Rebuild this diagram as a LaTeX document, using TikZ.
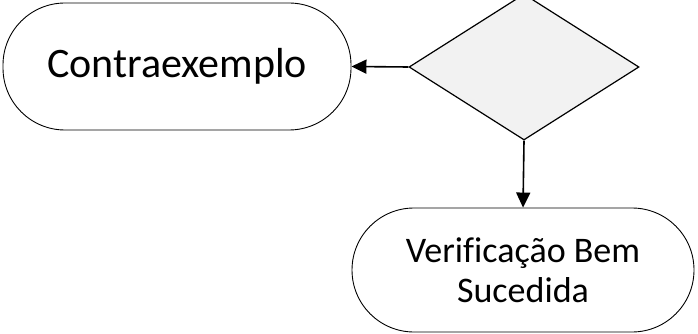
\documentclass[tikz,border=0pt]{standalone}
\usepackage{fontspec}
\setmainfont{Carlito}[Ligatures=CommonOff]
\usepackage{xcolor}
\usepackage{tikz}
\usetikzlibrary{arrows.meta,positioning,shapes.geometric}

\definecolor{decfill}{HTML}{F2F2F2}

\begin{document}
\begin{tikzpicture}[
  x=1pt, y=-1pt,
  term/.style={rectangle, draw, line width=0.9pt, rounded corners=62pt, align=center, inner sep=0pt},
  decision/.style={diamond, draw, line width=1.2pt, fill=decfill, inner sep=0pt},
  arrow/.style={-{Triangle[length=15pt,width=14pt]}, line width=1.6pt}
]
\clip (0,0) rectangle (698,334);

% Terminals
\node[term, minimum width=348pt, minimum height=127pt, font=\fontsize{42}{50}\selectfont] (contra) at (177,66.5) {Contraexemplo};
\node[term, minimum width=342pt, minimum height=124pt, font=\fontsize{36}{40}\selectfont] (verif) at (523,270) {Verificação Bem\\Sucedida};

% Decision
\node[decision, minimum width=230pt, minimum height=146pt] (dec) at (524,67) {};

% Arrows
\draw[arrow] (dec.west) -- (contra.east);
\draw[arrow] (dec.south) -- (verif.north);

\end{tikzpicture}
\end{document}
